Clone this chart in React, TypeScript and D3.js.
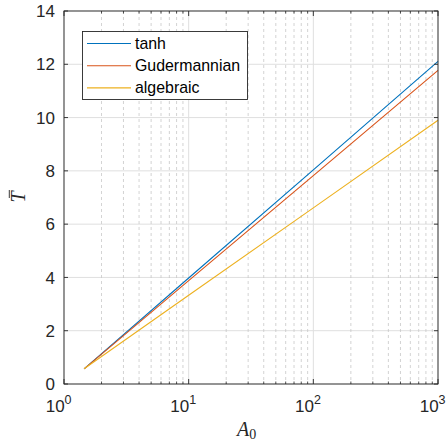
import React from "react";
import * as d3 from "d3";

const xValues = [1.45, 10, 100, 1000];
const tanhValues = [0.57, 3.98, 8.04, 12.11];
const gudValues = [0.57, 3.88, 7.82, 11.77];
const algValues = [0.57, 3.33, 6.61, 9.9];
const seriesNames = ["tanh", "Gudermannian", "algebraic"];
const seriesColors = ["#0072BD", "#D95319", "#EDB120"];
const yTicks = [0, 2, 4, 6, 8, 10, 12, 14];
const xMajor = [1, 10, 100, 1000];
const xExp = ["0", "1", "2", "3"];

const W = 447, H = 441;
const L = 64, R = 438, T = 11, B = 384;

export default function App() {
  const x = d3.scaleLog().domain([1, 1000]).range([L, R]);
  const y = d3.scaleLinear().domain([0, 14]).range([B, T]);
  const minor: number[] = [];
  for (let d = 1; d < 1000; d *= 10) for (let k = 2; k <= 9; k++) minor.push(d * k);
  const seriesData = [tanhValues, gudValues, algValues];
  const line = d3.line<[number, number]>().x((d) => x(d[0])).y((d) => y(d[1]));
  const axisCol = "#262626";
  const gridCol = "#dfdfdf";
  return (
    <svg width={W} height={H} style={{ position: "absolute", left: 0, top: 0, background: "#fff" }}>
      <rect x={0} y={0} width={W} height={H} fill="#fff" />
      {yTicks.map((t) => (
        <line key={"gy" + t} x1={L} x2={R} y1={y(t)} y2={y(t)} stroke={gridCol} strokeWidth={1} />
      ))}
      {minor.map((t) => (
        <line key={"gm" + t} x1={x(t)} x2={x(t)} y1={T} y2={B} stroke="#c8c8c8" strokeWidth={0.8} strokeDasharray="3,3" />
      ))}
      {xMajor.map((t) => (
        <line key={"gx" + t} x1={x(t)} x2={x(t)} y1={T} y2={B} stroke={gridCol} strokeWidth={1} />
      ))}
      {seriesData.map((vals, i) => (
        <path key={"s" + i} d={line(xValues.map((xv, j) => [xv, vals[j]]) as [number, number][]) || ""} fill="none" stroke={seriesColors[i]} strokeWidth={1.1} />
      ))}
      <rect x={L} y={T} width={R - L} height={B - T} fill="none" stroke={axisCol} strokeWidth={0.9} />
      {yTicks.map((t) => (
        <g key={"ty" + t}>
          <line x1={L} x2={L + 4} y1={y(t)} y2={y(t)} stroke={axisCol} strokeWidth={0.9} />
          <line x1={R} x2={R - 4} y1={y(t)} y2={y(t)} stroke={axisCol} strokeWidth={0.9} />
          <text x={55} y={y(t) + 6.2} textAnchor="end" fontFamily="Liberation Sans, Arial, sans-serif" fontSize={17} fill={axisCol}>{t}</text>
        </g>
      ))}
      {minor.map((t) => (
        <g key={"tm" + t}>
          <line x1={x(t)} x2={x(t)} y1={B} y2={B - 2.5} stroke={axisCol} strokeWidth={0.8} />
          <line x1={x(t)} x2={x(t)} y1={T} y2={T + 2.5} stroke={axisCol} strokeWidth={0.8} />
        </g>
      ))}
      {xMajor.map((t, i) => (
        <g key={"tx" + t}>
          <line x1={x(t)} x2={x(t)} y1={B} y2={B - 5} stroke={axisCol} strokeWidth={0.9} />
          <line x1={x(t)} x2={x(t)} y1={T} y2={T + 5} stroke={axisCol} strokeWidth={0.9} />
          <text x={x(t) - 18.3} y={412} textAnchor="start" fontFamily="Liberation Sans, Arial, sans-serif" fontSize={17} fill={axisCol}>
            10<tspan dy={-8} fontSize={12.5}>{xExp[i]}</tspan>
          </text>
        </g>
      ))}
      <text x={237} y={436} fontFamily="Liberation Serif, Times New Roman, serif" fontStyle="italic" fontSize={20} fill={axisCol}>
        A<tspan dy={3} fontSize={14} fontStyle="normal">0</tspan>
      </text>
      <g transform="translate(25,197) rotate(-90)">
        <text x={0} y={0} textAnchor="middle" fontFamily="Liberation Serif, Times New Roman, serif" fontStyle="italic" fontSize={20} fill={axisCol}>T</text>
        <line x1={-1} x2={7} y1={-15.7} y2={-15.7} stroke={axisCol} strokeWidth={0.9} />
      </g>
      <rect x={82.5} y={31.5} width={165} height={68} fill="#fff" stroke={axisCol} strokeWidth={0.9} />
      {seriesNames.map((n, i) => (
        <g key={"lg" + i}>
          <line x1={87} x2={131} y1={43.5 + i * 22.2} y2={43.5 + i * 22.2} stroke={seriesColors[i]} strokeWidth={1.1} />
          <text x={135} y={43.5 + i * 22.2 + 5.5} fontFamily="Liberation Sans, Arial, sans-serif" fontSize={15.9} fill="#000">{n}</text>
        </g>
      ))}
    </svg>
  );
}
